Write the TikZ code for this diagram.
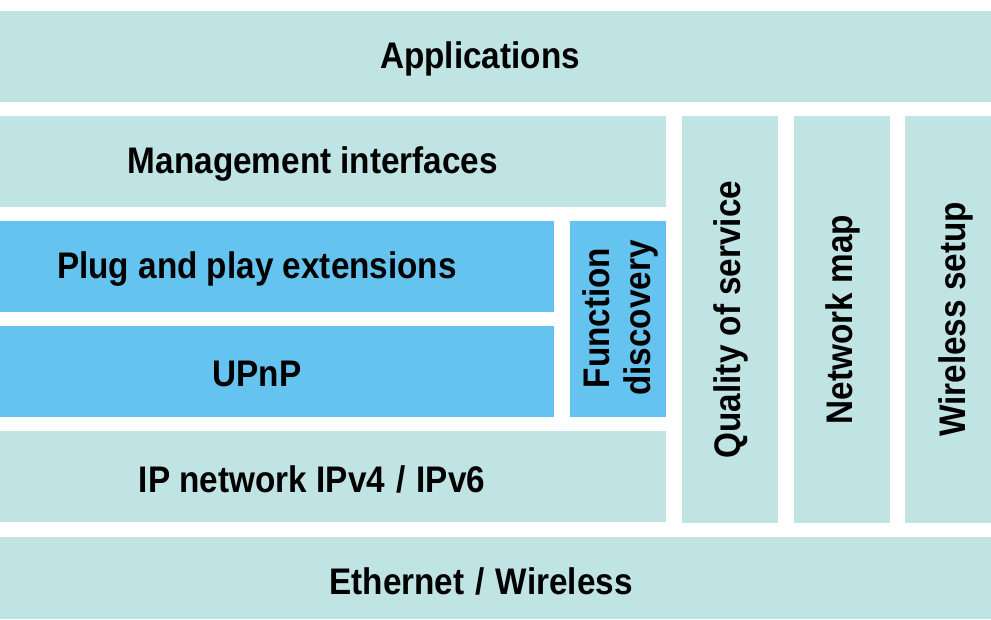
\documentclass[tikz,border=0pt]{standalone}
\usepackage{fontspec}
\setmainfont{Liberation Sans}[FakeStretch=0.9]
\definecolor{paleteal}{HTML}{C0E3E3}
\definecolor{skyblue}{HTML}{64C4EF}
\newcommand{\wideslash}{\hspace{0.3em}/\hspace{0.3em}}
\begin{document}
\begin{tikzpicture}[x=1pt,y=-1pt,
  box/.style={inner sep=0pt,outer sep=0pt,anchor=north west,fill=paleteal},
  bluebox/.style={box,fill=skyblue},
  lbl/.style={font=\fontsize{37}{41}\selectfont\bfseries,inner sep=0pt,align=center},
  vlbl/.style={lbl,rotate=90}]
\useasboundingbox (0,0) rectangle (991,619);
% boxes
\node[box,minimum width=991pt,minimum height=91pt] (app) at (0,11) {};
\node[box,minimum width=666pt,minimum height=91pt] (mgmt) at (0,116) {};
\node[bluebox,minimum width=554pt,minimum height=91pt] (pnp) at (0,221) {};
\node[bluebox,minimum width=554pt,minimum height=91pt] (upnp) at (0,326) {};
\node[bluebox,minimum width=96pt,minimum height=196pt] (fd) at (570,221) {};
\node[box,minimum width=666pt,minimum height=91pt] (ip) at (0,431) {};
\node[box,minimum width=96pt,minimum height=407pt] (qos) at (682,116) {};
\node[box,minimum width=96pt,minimum height=407pt] (nmap) at (794,116) {};
\node[box,minimum width=86pt,minimum height=407pt] (wset) at (905,116) {};
\node[box,minimum width=991pt,minimum height=82pt] (eth) at (0,537) {};
% labels
\node[lbl] (tapp) at (480,59) {Applications};
\node[lbl] (tmgmt) at (313,164) {Management interfaces};
\node[lbl] (tpnp) at (257,269) {Plug and play extensions};
\node[lbl] (tupnp) at (257,374) {UPnP};
\node[vlbl] (tfd) at (620,318) {Function\\discovery};
\node[lbl] (tip) at (312,479) {IP network IPv4\wideslash IPv6};
\node[vlbl] (tqos) at (731,319.5) {Quality of service};
\node[vlbl] (tnmap) at (843,319.5) {Network map};
\node[vlbl] (twset) at (956,319.5) {Wireless setup};
\node[lbl] (teth) at (481,581) {Ethernet\wideslash Wireless};
\end{tikzpicture}
\end{document}
